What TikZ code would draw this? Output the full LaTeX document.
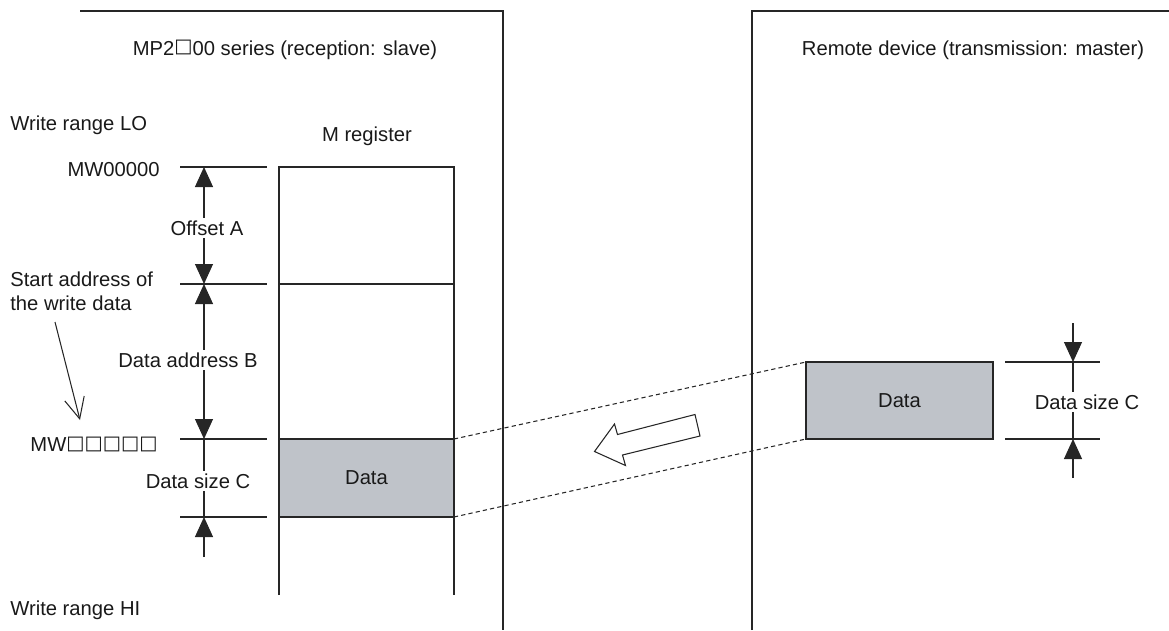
\documentclass[tikz,border=0pt]{standalone}
\usepackage{fontspec}
\setmainfont{Liberation Sans}
\newfontfamily\boxfont{DejaVu Sans}
\usetikzlibrary{arrows.meta,positioning}
\definecolor{datagray}{RGB}{191,195,201}
\newcommand{\sqbox}{\raisebox{1.3pt}{\boxfont\fontsize{11}{13}\selectfont □}}

\begin{document}
\begin{tikzpicture}[font=\fontsize{11.5}{13.5}\selectfont,text=black!90,
  thinline/.style={line width=0.6pt,draw=black!85},
  dimtip/.style={thinline,-{Triangle[length=4mm,width=3.6mm]}},
  dimboth/.style={thinline,{Triangle[length=4mm,width=3.6mm]}-{Triangle[length=4mm,width=3.6mm]}},
  databox/.style={draw=black!85,line width=1.1pt,fill=datagray,inner sep=0pt,outer sep=0pt},
  dimlabel/.style={fill=white,inner sep=1.5pt}]
\useasboundingbox (0,0) rectangle (23.38,12.6);
% frames of the two devices
\draw[thinline] (1.6,12.38) -- (10.06,12.38) -- (10.06,0);
\draw[thinline] (15.04,0) -- (15.04,12.38) -- (23.38,12.38);
\node (slave) at (5.7,11.6) {MP2\sqbox00 series (reception: slave)};
\node (master) at (19.46,11.6) {Remote device (transmission: master)};
% M register
\node[anchor=west,inner xsep=0pt] (rangelo) at (0.2,10.1) {Write range LO};
\node[anchor=west,inner xsep=0pt] (rangehi) at (0.2,0.4) {Write range HI};
\node (mreg) at (7.34,9.88) {M register};
\draw[thinline] (5.58,0.7) -- (5.58,9.26) -- (9.08,9.26) -- (9.08,0.7);
\draw[thinline] (5.58,6.92) -- (9.08,6.92);
\node[databox,minimum width=3.5cm,minimum height=1.56cm] (data) at (7.33,3.04) {Data};
% address ticks
\node[anchor=east,inner xsep=0pt] (mw0) at (3.2,9.2) {MW00000};
\node[anchor=east,inner xsep=0pt] (mwx) at (3.16,3.72) {MW\sqbox\sqbox\sqbox\sqbox\sqbox};
\draw[thinline] (3.6,9.26) -- (5.34,9.26);
\draw[thinline] (3.6,6.92) -- (5.34,6.92);
\draw[thinline] (3.6,3.82) -- (5.34,3.82);
\draw[thinline] (3.6,2.26) -- (5.34,2.26);
\coordinate (ta) at (4.08,9.26);
\coordinate (tb) at (4.08,6.92);
\coordinate (tc) at (4.08,3.82);
\coordinate (td) at (4.08,2.26);
\coordinate (te) at (4.08,1.46);
\draw[dimboth] (tb) -- (ta);
\draw[dimboth] (tc) -- (tb);
\draw[thinline] (tc) -- (td);
\draw[dimtip] (te) -- (td);
\node[dimlabel] (offa) at (4.14,8.04) {Offset A};
\node[dimlabel] (addrb) at (3.76,5.4) {Data address B};
\node[dimlabel] (sizec) at (3.96,2.98) {Data size C};
% start address pointer
\node[anchor=west,align=left,inner xsep=0pt] (start) at (0.2,6.78) {Start address of\\the write data};
\coordinate (sa0) at (1.1,6.16);
\coordinate (sa1) at (1.6,4.2);
\draw[thinline,-{Straight Barb[length=4.2mm,width=4mm]}] (sa0) -- (sa1);
% remote data
\node[databox,minimum width=3.74cm,minimum height=1.54cm] (rdata) at (17.99,4.59) {Data};
\draw[thinline] (20.1,5.36) -- (22.0,5.36);
\draw[thinline] (20.1,3.82) -- (22.0,3.82);
\coordinate (ra) at (21.46,6.14);
\coordinate (rb) at (21.46,5.36);
\coordinate (rc) at (21.46,3.82);
\coordinate (rd) at (21.46,3.04);
\draw[dimtip] (ra) -- (rb);
\draw[thinline] (rb) -- (rc);
\draw[dimtip] (rd) -- (rc);
\node[dimlabel] (rsizec) at (21.74,4.56) {Data size C};
% transfer
\draw[thinline,dash pattern=on 2.4pt off 1.8pt] (data.north east) -- (rdata.north west);
\draw[thinline,dash pattern=on 2.4pt off 1.8pt] (data.south east) -- (rdata.south west);
\draw[thinline,fill=white] (11.89,3.57) -- (12.29,4.12) -- (12.35,3.91) -- (13.9,4.31)
  -- (14.0,3.88) -- (12.45,3.5) -- (12.51,3.29) -- cycle;
\end{tikzpicture}
\end{document}
